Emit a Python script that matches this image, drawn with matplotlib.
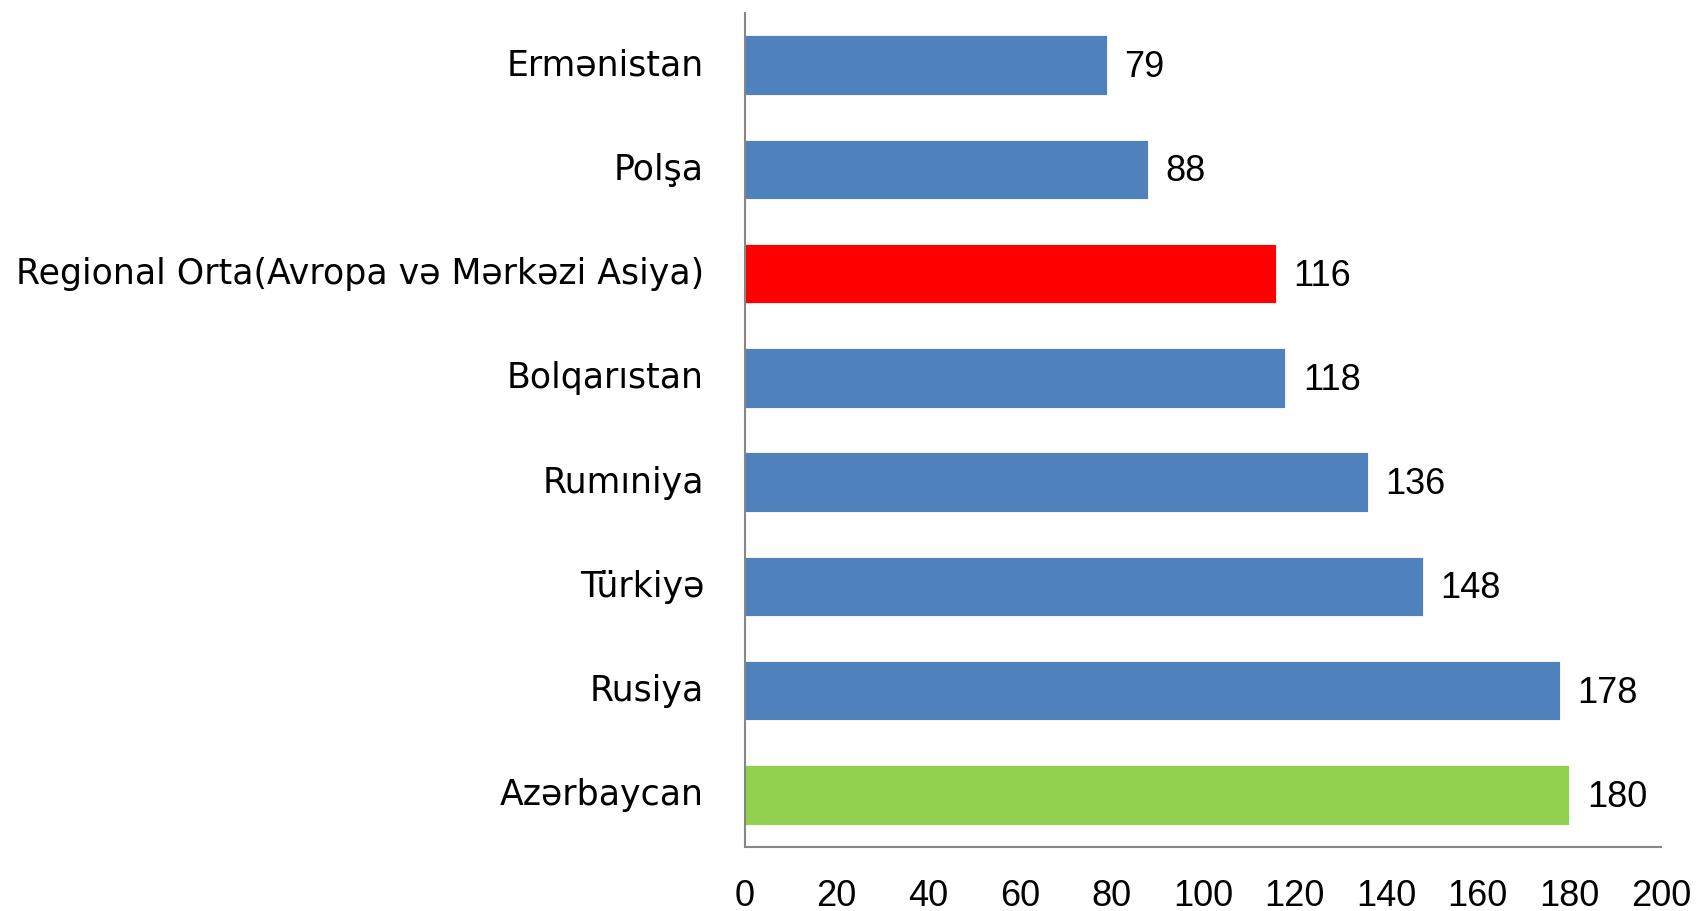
import matplotlib
matplotlib.use("Agg")
import matplotlib.pyplot as plt
import matplotlib.transforms as mtransforms
from matplotlib import font_manager

#=========================================================================================
countries = ['Azərbaycan', 'Rusiya', 'Türkiyə', 'Rumıniya', 'Bolqarıstan',
             'Regional Orta(Avropa və Mərkəzi Asiya)', 'Polşa', 'Ermənistan']
values = [180, 178, 148, 136, 118, 116, 88, 79]
colors = ['#92D050', '#4F81BD', '#4F81BD', '#4F81BD', '#4F81BD',
          '#FF0000', '#4F81BD', '#4F81BD']
xticks = [0, 20, 40, 60, 80, 100, 120, 140, 160, 180, 200]

installed = {f.name for f in font_manager.fontManager.ttflist}
num_font = 'Liberation Sans Narrow' if 'Liberation Sans Narrow' in installed else 'Liberation Sans'

#=========================================================================================
fig = plt.figure(figsize=(16.96, 9.11), dpi=100)
ax = fig.add_axes([745 / 1696, 1 - 847 / 911, 916 / 1696, 834 / 911])

y = range(len(countries))
bars = ax.barh(y, values, height=0.57, color=colors, edgecolor='white', linewidth=0.6)

for yi, v in zip(y, values):
    ax.text(v + 3.8, yi - 0.025, str(v), ha='left', va='center',
            fontsize=26, family=num_font, color='black')

ax.set_xlim(0, 200)
ax.set_ylim(-0.5, len(countries) - 0.5)
ax.set_xticks(xticks)
ax.set_xticklabels([str(t) for t in xticks], fontsize=26, family=num_font)
ax.set_yticks(list(y))
ax.set_yticklabels(countries, fontsize=25, family='DejaVu Sans')
ax.tick_params(axis='x', length=0, pad=23)
ax.tick_params(axis='y', length=0, pad=29.5)

# category labels sit a little above the bar centres
shift = mtransforms.ScaledTranslation(0, 3 / 100, fig.dpi_scale_trans)
for lbl in ax.get_yticklabels():
    lbl.set_transform(lbl.get_transform() + shift)

for side in ['top', 'right']:
    ax.spines[side].set_visible(False)
for side in ['left', 'bottom']:
    ax.spines[side].set_color('#868686')
    ax.spines[side].set_linewidth(1.5)

fig.savefig('out.png', dpi=100)
